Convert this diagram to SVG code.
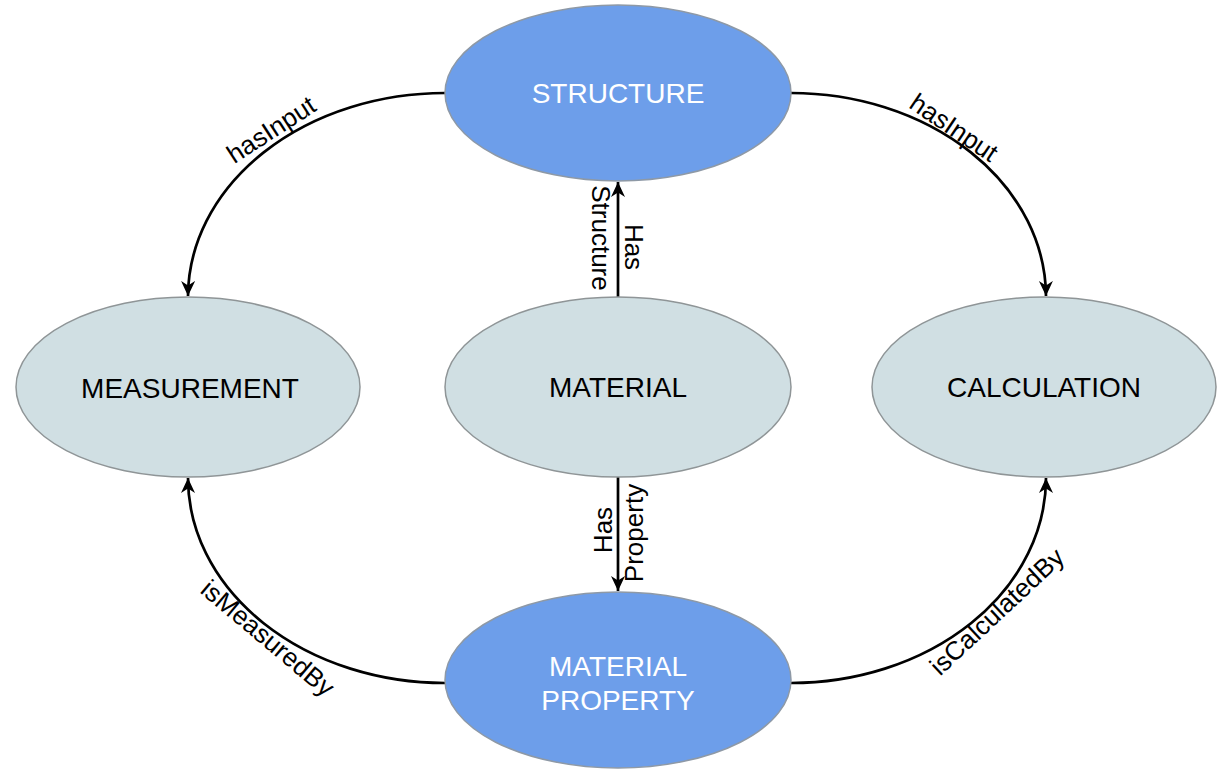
<svg xmlns="http://www.w3.org/2000/svg" width="1230" height="771" viewBox="0 0 1230 771">
<defs>
<style>
.blue{fill:#6d9eea;stroke:#8e99a6;stroke-width:1.5}
.gray{fill:#d0dfe3;stroke:#8f9597;stroke-width:1.5}
.nl{font-family:"Liberation Sans",Arial,sans-serif;font-size:28px;text-anchor:middle}
.wt{fill:#ffffff}
.bk{fill:#000000}
.el{font-family:"Liberation Sans",Arial,sans-serif;font-size:26px;text-anchor:middle;fill:#000}
.edge{fill:none;stroke:#000;stroke-width:2.7;marker-end:url(#arr)}
</style>
<marker id="arr" markerUnits="userSpaceOnUse" markerWidth="17" markerHeight="15" refX="15" refY="7" orient="auto">
<path d="M0,0 L15,7 L0,14 L4.5,7 z" fill="#000"/>
</marker>
</defs>
<rect width="1230" height="771" fill="#ffffff"/>
<g id="connectors">
<path class="edge" d="M445,93 A257,204 0 0 0 188,296"/>
<path class="edge" d="M791,93 A255,204 0 0 1 1046,296"/>
<path class="edge" d="M445,683 A257,205 0 0 1 188,478"/>
<path class="edge" d="M791,683 A255,205 0 0 0 1046,478"/>
<path class="edge" d="M618,297 L618,182"/>
<path class="edge" d="M618,477 L618,591"/>
<text class="el" transform="translate(276,137) rotate(-33)">hasInput</text>
<text class="el" transform="translate(949,135) rotate(34)">hasInput</text>
<text class="el" transform="translate(262,645) rotate(40)">isMeasuredBy</text>
<text class="el" transform="translate(1003,618) rotate(-43)">isCalculatedBy</text>
<text class="el" transform="translate(592,238) rotate(90)">Structure</text>
<text class="el" transform="translate(625,247) rotate(90)">Has</text>
<text class="el" transform="translate(612,530) rotate(-90)">Has</text>
<text class="el" transform="translate(643,533) rotate(-90)">Property</text>
</g>
<g id="structure">
<ellipse class="blue" cx="618" cy="93" rx="173" ry="88"/>
<text class="nl wt" x="618" y="103">STRUCTURE</text>
</g>
<g id="measurement">
<ellipse class="gray" cx="188" cy="387" rx="172" ry="90"/>
<text class="nl bk" x="190" y="398">MEASUREMENT</text>
</g>
<g id="material">
<ellipse class="gray" cx="618" cy="387" rx="173" ry="90"/>
<text class="nl bk" x="618" y="397">MATERIAL</text>
</g>
<g id="calculation">
<ellipse class="gray" cx="1044" cy="387" rx="172" ry="90"/>
<text class="nl bk" x="1044" y="397">CALCULATION</text>
</g>
<g id="material-property">
<ellipse class="blue" cx="618" cy="680" rx="173" ry="88"/>
<text class="nl wt" x="618" y="676">MATERIAL</text>
<text class="nl wt" x="618" y="710">PROPERTY</text>
</g>
</svg>
